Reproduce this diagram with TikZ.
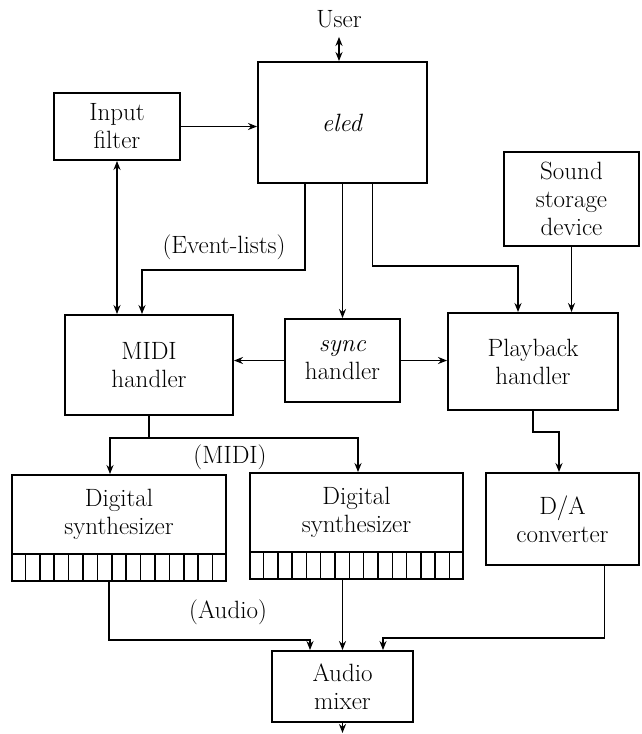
\documentclass[tikz,border=0pt]{standalone}
\usepackage{fontspec}
\usetikzlibrary{%
	calc,%
	arrows.meta,%
	positioning,%
}
\tikzset{
	>={Stealth[length=9pt,width=7pt]},%
	nodes={align=center},%
	unit/.style={%
			draw,%
			rectangle,%
			line width=1.9pt,%
			inner sep=0pt,%
			fill=white},%
	cellrow/.style={%
			draw,%
			rectangle,%
			line width=1.9pt,%
			inner sep=0pt,%
			minimum height=27pt},%
	link/.style={->, line width=1.7pt},%
	tag/.style={inner sep=0pt},%
}
\newcommand{\blockfont}{\fontsize{25}{28}\selectfont}

\begin{document}
\begin{tikzpicture}[x=1pt, y=-1pt, nodes={font=\blockfont}]%
	\useasboundingbox (0,0) rectangle (641,734);

	\node[unit, minimum width=169pt, minimum height=121pt] (eled) at (342.5,122.5) {\textit{eled}};
	\node[tag] (user) at (339,19) {User};
	\node[unit, minimum width=126pt, minimum height=67pt] (infilt) at (117,126.5) {Input\\filter};
	\node[unit, minimum width=135pt, minimum height=94pt] (sound) at (571.5,199) {Sound\\storage\\device};

	\node[unit, minimum width=168pt, minimum height=100pt] (midi) at (149,365) {MIDI\\handler};
	\node[unit, minimum width=115pt, minimum height=83pt] (sync) at (342.5,360.5) {\textit{sync}\\handler};
	\node[unit, minimum width=170pt, minimum height=97pt] (play) at (533,361.5) {Playback\\handler};

	\node[unit, minimum width=214pt, minimum height=79pt] (synth1) at (119,514.5) {Digital\\synthesizer};
	\node[unit, minimum width=213pt, minimum height=79pt] (synth2) at (356.5,512.5) {Digital\\synthesizer};
	\node[unit, minimum width=153pt, minimum height=92pt] (da) at (562.5,519) {D/A\\converter};
	\node[cellrow, minimum width=214pt, below=-1.9pt of synth1] (cells1) {};
	\node[cellrow, minimum width=213pt, below=-1.9pt of synth2] (cells2) {};
	\foreach \k in {1,...,14} {
		\draw[line width=1.6pt] ($(cells1.south west)!\k/15!(cells1.south east)$) -- ($(cells1.north west)!\k/15!(cells1.north east)$);
		\draw[line width=1.6pt] ($(cells2.south west)!\k/15!(cells2.south east)$) -- ($(cells2.north west)!\k/15!(cells2.north east)$);
	}

	\node[unit, minimum width=141pt, minimum height=71pt] (mixer) at (342.5,686.5) {Audio\\mixer};

	\node[tag] (evlabel) at (224,247) {(Event-lists)};
	\node[tag] (midilabel) at (230,457) {(MIDI)};
	\node[tag] (audiolabel) at (228,612) {(Audio)};

	% bends of the connectors
	\coordinate (evbend) at (142,270);
	\coordinate (pbbend) at (518,266);
	\coordinate (dabend) at (559,432);
	\coordinate (mleft) at (110,438);
	\coordinate (mright) at (358,438);
	\coordinate (aleft) at (310,640);
	\coordinate (aright) at (383,638);
	\coordinate (outp) at (342.5,733);

	\draw[link, <->, shorten >=9pt] (user |- eled.north) -- (user);
	\draw[link] (infilt.east) -- (infilt.east -| eled.west);
	\draw[link, <->] (infilt.south) -- (infilt.south |- midi.north);
	\draw[link] ([xshift=-37.5pt]eled.south) |- (evbend) -- (evbend |- midi.north);
	\draw[link] (sync.north |- eled.south) -- (sync.north);
	\draw[link] ([xshift=30pt]eled.south) |- (pbbend) -- (pbbend |- play.north);
	\draw[link] (sound.south) -- (sound.south |- play.north);

	\draw[link] (sync.west) -- (sync.west -| midi.east);
	\draw[link] (sync.east) -- (sync.east -| play.west);
	\draw[link] (play.south) |- (dabend) -- (dabend |- da.north);
	\draw[link] (midi.south) |- (mleft) -- (mleft |- synth1.north);
	\draw[link] (midi.south) |- (mright) -- (mright |- synth2.north);

	\draw[link] ([xshift=-10pt]cells1.south) |- (aleft) -- (aleft |- mixer.north);
	\draw[link] (mixer.north |- cells2.south) -- (mixer.north);
	\draw[link] ([xshift=42pt]da.south) |- (aright) -- (aright |- mixer.north);
	\draw[link] (mixer.south) -- (outp);
\end{tikzpicture}
\end{document}
